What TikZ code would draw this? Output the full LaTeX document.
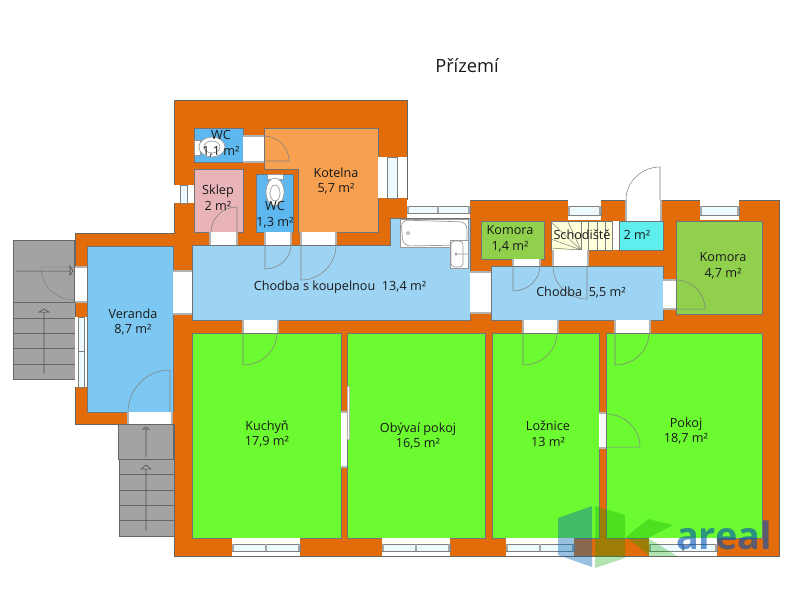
\documentclass[tikz,border=0pt]{standalone}
\usepackage{fontspec}
\setmainfont{Open Sans}
\usetikzlibrary{calc,arrows.meta}
\definecolor{wallc}{RGB}{227,108,10}
\definecolor{verandac}{RGB}{125,200,242}
\definecolor{hallc}{RGB}{158,212,243}
\definecolor{wcc}{RGB}{92,184,238}
\definecolor{boilerc}{RGB}{247,160,80}
\definecolor{cellarc}{RGB}{232,180,184}
\definecolor{storec}{RGB}{144,208,76}
\definecolor{stairc}{RGB}{255,255,217}
\definecolor{cyanc}{RGB}{95,238,238}
\definecolor{roomc}{RGB}{108,251,48}
\definecolor{stepc}{RGB}{163,163,163}
\definecolor{glassc}{RGB}{236,250,253}
\tikzset{
	wall/.style={fill=wallc, draw=black!60, line width=0.3pt},
	room/.style={draw=black!55, line width=0.3pt},
	gap/.style={fill=white, draw=none},
	jamb/.style={draw=black!30, line width=0.6pt},
	leaf/.style={draw=black!50, line width=0.3pt},
	pane/.style={fill=glassc, draw=black!50, line width=0.3pt},
	post/.style={draw=black!35, line width=1pt},
	fixture/.style={fill=white, draw=black!40, line width=0.4pt},
	steps/.style={fill=stepc, draw=black!60, line width=0.35pt},
	label/.style={font=\fontsize{7.2}{9}\selectfont, text=black!90, align=center, inner sep=0pt},
}
\def\doorleaf(#1)(#2)(#3){\draw[leaf] (#1) -- (#2) .. controls ($(#2)+0.55*(#3)-0.55*(#1)$) and ($(#3)+0.55*(#2)-0.55*(#1)$) .. (#3);}
\def\hgap(#1,#2)(#3,#4){\fill[gap] (#1,#2) rectangle (#3,#4); \draw[jamb] (#1,#2) -- (#1,#4) (#3,#2) -- (#3,#4);}
\def\vgap(#1,#2)(#3,#4){\fill[gap] (#1,#2) rectangle (#3,#4); \draw[jamb] (#1,#2) -- (#3,#2) (#1,#4) -- (#3,#4);}
\def\hwin(#1,#2)(#3,#4){\fill[white] (#1,#2) rectangle (#3,#4); \draw[pane] (#1,#2+6) rectangle (#3,#4-5); \draw[post] (#1+1,#2+6) -- (#1+1,#4-5) (#3-1,#2+6) -- (#3-1,#4-5);}
\begin{document}
\begin{tikzpicture}[x=0.02cm, y=-0.02cm]
	\useasboundingbox (0, 0) rectangle (800, 600);
	
	%%%%% walls %%%%%
	\draw[wall] (174, 100) -- (407, 100) -- (407, 200) -- (779, 200) -- (779, 556) -- (174, 556) -- (174, 424) -- (75, 424) -- (75, 233) -- (174, 233) -- cycle;
	
	%%%%% outer stairs %%%%%
	\draw[steps] (13, 240) rectangle (74, 302);
	\draw[steps] (13, 302) rectangle (75, 379);
	\draw[steps] (13, 318) -- (75, 318) (13, 333) -- (75, 333) (13, 348) -- (75, 348) (13, 364) -- (75, 364);
	\draw[leaf, black!70] (44, 374) -- (44, 312) (39, 312) -- (49, 312) -- (44, 309) -- cycle;
	\draw[leaf, black!70] (16, 271) -- (70, 271) (70, 266) -- (70, 275) -- (73, 271) -- cycle;
	\doorleaf(74, 267)(41, 267)(74, 300);
	
	\draw[steps] (118, 424) rectangle (173, 459);
	\draw[steps] (119, 459) rectangle (174, 536);
	\draw[steps] (119, 474) -- (174, 474) (119, 490) -- (174, 490) (119, 505) -- (174, 505) (119, 520) -- (174, 520);
	\draw[leaf, black!70] (146, 457) -- (146, 429) (143, 429) -- (149, 429) -- (146, 427) -- cycle;
	\draw[leaf, black!70] (146, 531) -- (146, 469) (141, 469) -- (151, 469) -- (146, 465) -- cycle;
	
	%%%%% rooms %%%%%
	\draw[room, fill=verandac] (87, 246) rectangle (173, 412);
	\draw[room, fill=hallc] (192, 245) -- (390, 245) -- (390, 218) -- (470, 218) -- (470, 320) -- (192, 320) -- cycle;
	\draw[room, fill=hallc] (491, 266) rectangle (663, 320);
	\draw[room, fill=wcc] (194, 128) rectangle (243, 162);
	\draw[room, fill=cellarc] (194, 169) rectangle (243, 232);
	\draw[room, fill=wcc] (256, 174) rectangle (293, 232);
	\draw[room, fill=boilerc] (264, 128) -- (378, 128) -- (378, 232) -- (298, 232) -- (298, 169) -- (264, 169) -- cycle;
	\draw[room, fill=storec] (481, 221) rectangle (544, 259);
	\draw[room, fill=storec] (676, 221) rectangle (762, 314);
	\draw[room, fill=stairc] (551, 221) rectangle (612, 250);
	\fill[white] (612, 221) rectangle (619, 250);
	\draw[room, fill=cyanc] (619, 221) rectangle (663, 250);
	\draw[room, fill=roomc] (192, 333) rectangle (341, 538);
	\draw[room, fill=roomc] (347, 333) rectangle (485, 538);
	\draw[room, fill=roomc] (492, 333) rectangle (599, 538);
	\draw[room, fill=roomc] (606, 333) rectangle (762, 538);
	
	% winder in the stair hall
	\draw[leaf] (551, 222) -- (581, 250) (551, 239) -- (581, 250) (551, 248) -- (581, 250) (568, 222) -- (581, 250);
	\draw[leaf] (581, 221) -- (581, 250) (588, 221) -- (588, 250) (597, 221) -- (597, 250) (605, 221) -- (605, 250) (612, 221) -- (612, 250);
	
	%%%%% door openings %%%%%
	\vgap(75, 267)(87, 302)
	\vgap(173, 271)(192, 314)
	\hgap(128, 412)(172, 424)
	\vgap(243, 136)(264, 162)
	\hgap(210, 232)(237, 245)
	\hgap(265, 232)(291, 245)
	\hgap(301, 232)(336, 245)
	\vgap(470, 272)(491, 313)
	\hgap(513, 259)(540, 266)
	\hgap(553, 250)(588, 266)
	\hgap(626, 200)(661, 221)
	\vgap(663, 280)(676, 309)
	\hgap(243, 320)(278, 333)
	\hgap(523, 320)(558, 333)
	\hgap(615, 320)(650, 333)
	\vgap(341, 412)(347, 467)
	\vgap(599, 413)(606, 448)
	\fill[white, draw=black!30, line width=0.2pt] (347, 386) rectangle (349, 439);
	
	%%%%% door leaves %%%%%
	\doorleaf(170, 412)(170, 370)(128, 412);
	\doorleaf(264, 161)(289, 161)(264, 136);
	\doorleaf(237, 232)(237, 207)(211, 232);
	\doorleaf(265, 245)(265, 269)(291, 245);
	\doorleaf(301, 245)(301, 280)(336, 245);
	\doorleaf(513, 266)(513, 291)(540, 266);
	\doorleaf(587, 266)(587, 299)(553, 266);
	\doorleaf(660, 200)(660, 167)(626, 200);
	\doorleaf(676, 309)(705, 309)(676, 280);
	\doorleaf(243, 333)(243, 365)(277, 333);
	\doorleaf(523, 333)(523, 365)(557, 333);
	\doorleaf(615, 333)(615, 365)(649, 333);
	\doorleaf(606, 447)(640, 447)(606, 414);
	
	%%%%% windows %%%%%
	\fill[white] (174, 185) rectangle (194, 203);
	\draw[pane] (180, 185) rectangle (187, 203);
	\fill[white] (378, 157) rectangle (407, 198);
	\draw[pane] (387, 157) rectangle (397, 198);
	\hwin(407, 200)(470, 218)
	\draw[post] (438, 206) -- (438, 213);
	\hwin(568, 200)(601, 220)
	\hwin(700, 200)(739, 220)
	\fill[white] (75, 317) rectangle (87, 387);
	\draw[pane] (78, 317) rectangle (84, 387) (78, 351) -- (84, 351);
	\hwin(232, 538)(300, 556)
	\draw[post] (266, 544) -- (266, 551);
	\hwin(382, 538)(450, 556)
	\draw[post] (416, 544) -- (416, 551);
	\hwin(506, 538)(574, 556)
	\draw[post] (540, 544) -- (540, 551);
	\hwin(649, 538)(717, 556)
	\draw[post] (683, 544) -- (683, 551);
	
	%%%%% fixtures %%%%%
	\draw[fixture] (400, 219) rectangle (468, 247);
	\draw[fixture, rounded corners=4] (401, 220) -- (467, 222) -- (467, 245) -- (403, 246) -- cycle;
	\draw[fixture] (408, 233) circle (1.5);
	\draw[fixture] (450, 240) rectangle (468, 268);
	\draw[fixture, rounded corners=2] (451, 241) rectangle (463, 267);
	\draw[fixture] (456, 254) circle (1) (456, 254) -- (468, 254);
	\draw[fixture] (194, 140) rectangle (200, 155);
	\draw[fixture] (212, 147) ellipse (13 and 10);
	\draw[fixture] (212, 147) ellipse (8 and 6);
	\draw[fixture] (267, 174) rectangle (283, 179);
	\draw[fixture] (275, 192) ellipse (9 and 14);
	\draw[fixture] (275, 193) ellipse (5 and 8);
	
	%%%%% labels %%%%%
	\node[label, font=\fontsize{10.4}{13}\selectfont] (title) at (467, 66) {Přízemí};
	\node[label] (wcup) at (221, 144) {WC\\1,1 m²};
	\node[label] (kotelna) at (336, 181) {Kotelna\\5,7 m²};
	\node[label] (sklep) at (218, 198) {Sklep\\2 m²};
	\node[label] (wcdown) at (275, 215) {WC\\1,3 m²};
	\node[label] (koupelna) at (340, 287) {Chodba s koupelnou\ \ 13,4 m²};
	\node[label] (veranda) at (133, 322) {Veranda\\8,7 m²};
	\node[label] (kuchyn) at (267, 434) {Kuchyň\\17,9 m²};
	\node[label] (obyvak) at (418, 436) {Obývaí pokoj\\16,5 m²};
	\node[label] (loznice) at (548, 434) {Ložnice\\13 m²};
	\node[label] (pokoj) at (686, 431) {Pokoj\\18,7 m²};
	\node[label] (komoraa) at (510, 239) {Komora\\1,4 m²};
	\node[label] (schody) at (582, 235) {Schodiště};
	\node[label] (zadveri) at (637, 235) {2 m²};
	\node[label] (chodba) at (581, 292) {Chodba\ \ 5,5 m²};
	\node[label] (komorab) at (723, 266) {Komora\\4,7 m²};
	
	%%%%% logo %%%%%
	\fill[blue!45!cyan!70!black, opacity=0.4] (558, 518) -- (592, 506) -- (592, 567) -- (558, 555) -- cycle;
	\fill[green!65!black, opacity=0.3] (595, 506) -- (625, 515) -- (625, 558) -- (595, 568) -- cycle;
	\fill[green!65!black, opacity=0.3] (626, 537) -- (648, 519) -- (673, 525) -- (648, 538) -- (677, 556) -- (650, 556) -- cycle;
	\node[inner sep=0pt, anchor=base, text=blue!55!cyan!70!black, opacity=0.6, font=\fontsize{21.5}{24}\selectfont\bfseries] (areal) at (724, 549) {areal};
\end{tikzpicture}
\end{document}
